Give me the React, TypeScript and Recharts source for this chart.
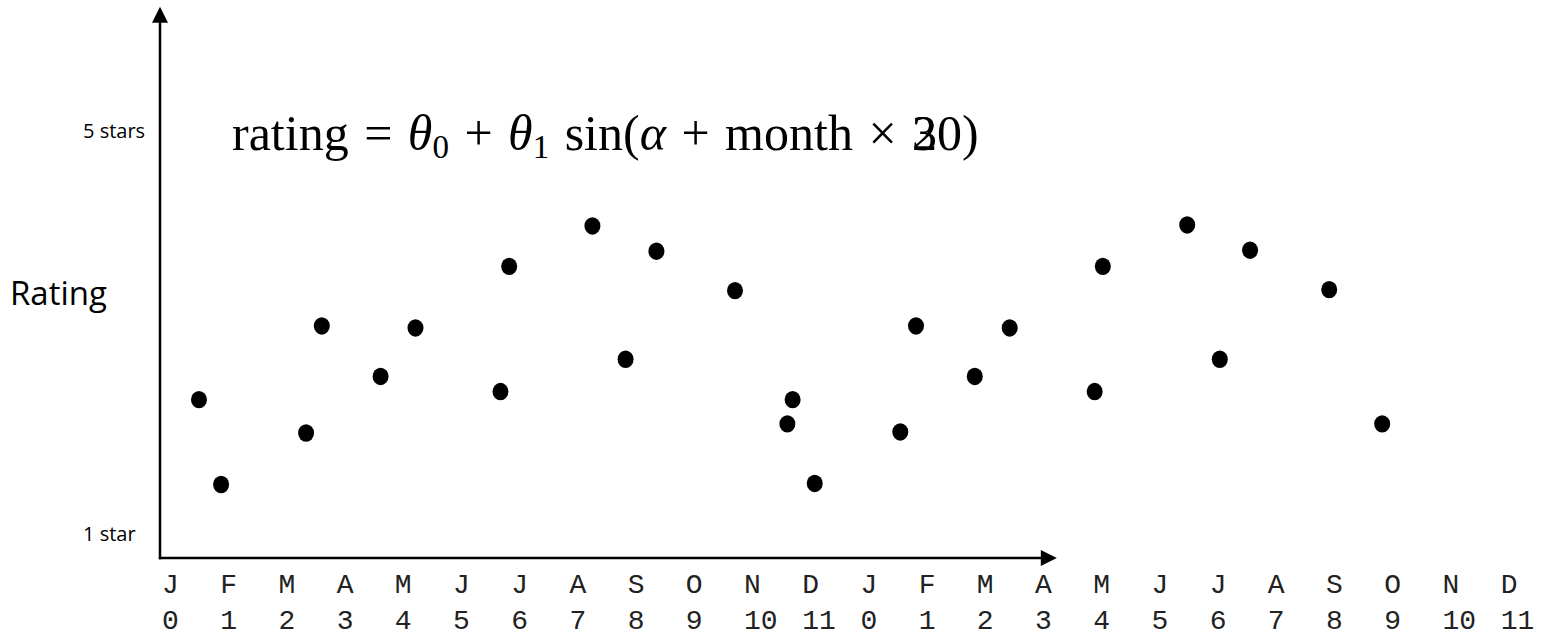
import { ScatterChart, Scatter, XAxis, YAxis, ReferenceLine } from 'recharts';

// tick labels along the month axis (two years)
const monthLetters = ['J', 'F', 'M', 'A', 'M', 'J', 'J', 'A', 'S', 'O', 'N', 'D', 'J', 'F', 'M', 'A', 'M', 'J', 'J', 'A', 'S', 'O', 'N', 'D'];
const monthNumbers = ['0', '1', '2', '3', '4', '5', '6', '7', '8', '9', '10', '11', '0', '1', '2', '3', '4', '5', '6', '7', '8', '9', '10', '11'];
const monthTicks = monthLetters.map((_, i) => i);

// observed ratings, x in month-tick units
const pointMonths = [
  0.49, 0.87, 2.33, 2.6, 3.61, 4.21, 5.67, 5.82, 7.25, 7.82, 8.35, 9.7, 10.6, 10.69, 11.07,
  12.54, 12.81, 13.82, 14.42, 15.88, 16.02, 17.47, 18.03, 18.55, 19.91, 20.82,
];
const pointRatings = [
  2.33, 1.49, 2.0, 3.06, 2.56, 3.04, 2.41, 3.65, 4.05, 2.73, 3.8, 3.41, 2.09, 2.33, 1.5,
  2.01, 3.06, 2.56, 3.04, 2.41, 3.65, 4.06, 2.73, 3.81, 3.42, 2.09,
];

const starTicks = [1, 5];
const starLabels: Record<number, string> = { 1: '1 star', 5: '5 stars' };

const X_MIN = -0.18;
const X_MAX = 23.36;
const Y_MIN = 0.762;
const Y_MAX = 6.238;
const X_ARROW_END = 15.23;
const Y_ARROW_END = 6.22;

const data = pointMonths.map((m, i) => ({ month: m, rating: pointRatings[i] }));

function ArrowLine(props: any) {
  const { x1, y1, x2, y2 } = props;
  const dx = x2 - x1;
  const dy = y2 - y1;
  const len = Math.hypot(dx, dy) || 1;
  const ux = dx / len;
  const uy = dy / len;
  const head = 16;
  const half = 8;
  const bx = x2 - ux * head;
  const by = y2 - uy * head;
  const px = -uy * half;
  const py = ux * half;
  return (
    <g>
      <line x1={x1 - ux * 1.2} y1={y1 - uy * 1.2} x2={bx + ux} y2={by + uy} stroke="#000" strokeWidth={2.5} />
      <polygon points={`${x2},${y2} ${bx + px},${by + py} ${bx - px},${by - py}`} fill="#000" />
    </g>
  );
}

function MonthTick({ x, y, payload }: any) {
  const i = payload.value;
  const font = { fontFamily: '"Liberation Mono", monospace', fontSize: 28, fill: '#222' };
  return (
    <g>
      <text x={x - 8.4} y={y + 35} textAnchor="start" {...font}>{monthLetters[i]}</text>
      <text x={x - 8.4} y={y + 71} textAnchor="start" {...font}>{monthNumbers[i]}</text>
    </g>
  );
}

function StarTick({ y, payload }: any) {
  return (
    <text x={83} y={y} dominantBaseline="central" textAnchor="start" fontFamily='"Open Sans", sans-serif' fontSize={20} fill="#000">
      {starLabels[payload.value]}
    </text>
  );
}

function Dot({ cx, cy }: any) {
  return <ellipse cx={cx} cy={cy} rx={8} ry={8.7} fill="#000" />;
}

export default function App() {
  return (
    <div style={{ position: 'absolute', left: 0, top: 0, background: '#fff' }}>
      <ScatterChart width={1541} height={638} margin={{ top: 5, right: 11, bottom: 0, left: 0 }}>
        <XAxis
          dataKey="month"
          type="number"
          domain={[X_MIN, X_MAX]}
          ticks={monthTicks}
          interval={0}
          allowDataOverflow
          axisLine={false}
          tickLine={false}
          tickSize={0}
          tickMargin={0}
          height={80}
          tick={<MonthTick />}
        />
        <YAxis
          dataKey="rating"
          type="number"
          domain={[Y_MIN, Y_MAX]}
          ticks={starTicks}
          allowDataOverflow
          axisLine={false}
          tickLine={false}
          width={160}
          tick={<StarTick />}
          label={{
            content: () => (
              <text x={10} y={305} fontFamily='"Open Sans", sans-serif' fontSize={33} fill="#000">
                Rating
              </text>
            ),
          }}
        />
        <ReferenceLine
          segment={[{ x: X_MIN, y: Y_MIN }, { x: X_MIN, y: Y_ARROW_END }]}
          ifOverflow="visible"
          shape={<ArrowLine />}
        />
        <ReferenceLine
          segment={[{ x: X_MIN, y: Y_MIN }, { x: X_ARROW_END, y: Y_MIN }]}
          ifOverflow="visible"
          shape={<ArrowLine />}
        />
        <Scatter data={data} dataKey="rating" shape={<Dot />} isAnimationActive={false} />
        <text x={232} y={150} fontFamily='"Liberation Serif", serif' fontSize={50} fill="#000" wordSpacing={3}>
          rating = <tspan fontStyle="italic">θ</tspan>
          <tspan fontSize={33} dy={8}>0</tspan>
          <tspan dy={-8}> + </tspan>
          <tspan fontStyle="italic">θ</tspan>
          <tspan fontSize={33} dy={8}>1</tspan>
          <tspan dy={-8}> sin(</tspan>
          <tspan fontStyle="italic">α</tspan>
          <tspan> + month × 2</tspan>
          <tspan dx={-25}>30)</tspan>
        </text>
      </ScatterChart>
    </div>
  );
}
